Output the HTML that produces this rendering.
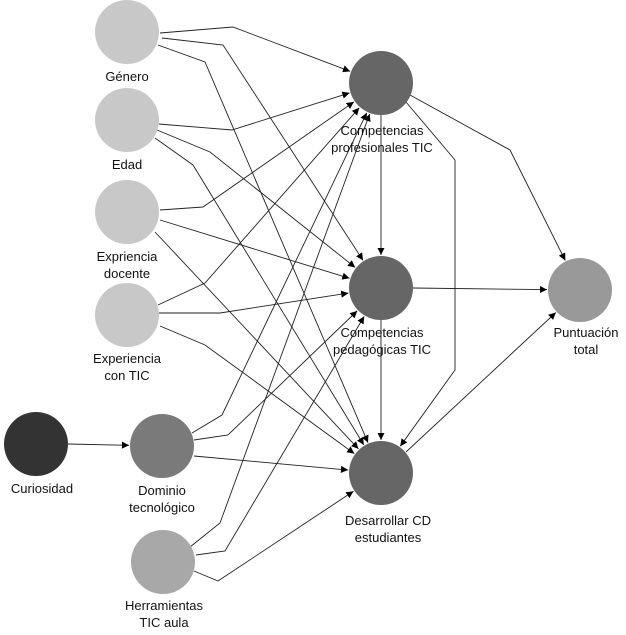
<!DOCTYPE html>
<html><head><meta charset="utf-8"><style>
html,body{margin:0;padding:0;background:#fff;}
svg{display:block}
text{font-family:"Liberation Sans","DejaVu Sans",sans-serif;font-size:13px;fill:#111;text-anchor:middle}
</style></head><body>
<svg id="s" width="626" height="635" viewBox="0 0 626 635" xmlns="http://www.w3.org/2000/svg">
<defs><marker id="a" viewBox="0 0 10 10" refX="10" refY="5" markerWidth="8" markerHeight="8" orient="auto"><path d="M0,0 L10,5 L0,10 z" fill="#000"/></marker></defs>
<g id="edges" stroke="#222" stroke-width="0.9" fill="none"></g>
<g id="nodes">
<circle cx="127" cy="32" r="32" fill="#c8c8c8"/>
<circle cx="127" cy="120" r="32" fill="#c8c8c8"/>
<circle cx="127" cy="212" r="32" fill="#c8c8c8"/>
<circle cx="127" cy="315" r="32" fill="#c8c8c8"/>
<circle cx="36" cy="444" r="32" fill="#333"/>
<circle cx="162" cy="446" r="32" fill="#7a7a7a"/>
<circle cx="163" cy="562" r="32" fill="#a8a8a8"/>
<circle cx="381" cy="83" r="32" fill="#666"/>
<circle cx="381" cy="288" r="32" fill="#666"/>
<circle cx="381" cy="473" r="32" fill="#666"/>
<circle cx="580" cy="290" r="32" fill="#999"/>
</g>
<text x="127" y="81">Género</text>
<text x="127" y="169">Edad</text>
<text x="127" y="261">Expriencia</text><text x="127" y="278">docente</text>
<text x="127" y="363">Experiencia</text><text x="127" y="380">con TIC</text>
<text x="42" y="493">Curiosidad</text>
<text x="162" y="495">Dominio</text><text x="162" y="512">tecnológico</text>
<text x="164" y="610">Herramientas</text><text x="164" y="627">TIC aula</text>
<text x="382" y="135">Competencias</text><text x="382" y="152">profesionales TIC</text>
<text x="382" y="337">Competencias</text><text x="382" y="354">pedagógicas TIC</text>
<text x="388" y="525">Desarrollar CD</text><text x="388" y="542">estudiantes</text>
<text x="586" y="337">Puntuación</text><text x="586" y="354">total</text>
</svg>
<script>
var T={P:[381,83],G:[381,288],D:[381,473],S:[580,290],Do:[162,446]};
var E=[
[[160,33],[233,27]],'P',[[162,38],[223,45]],'G',[[158,45],[205,62]],'D',
[[159,124],[232,130]],'P',[[157,130],[210,152]],'G',[[155,138],[193,165]],'D',
[[160,210],[203,207]],'P',[[160,220]],'G',[[155,232]],'D',
[[158,305],[205,283]],'P',[[159,313],[220,313]],'G',[[160,326],[205,345]],'D',
[[192,433],[222,415]],'P',[[194,440],[228,435]],'G',[[194,456]],'D',
[[190,547],[220,523]],'P',[[196,555],[225,551]],'G',[[194,571],[218,581]],'D',
[[68,444]],'Do',[[381,115]],'G',[[406,102],[455,160],[455,370]],'D',
[[410,95],[510,150]],'S',[[413,288]],'S',[[381,320]],'D',[[406,452]],'S'
];
var g=document.getElementById('edges'),r=33;
for(var i=0;i<E.length;i+=2){var p=E[i].slice(),c=T[E[i+1]],l=p[p.length-1];
var dx=c[0]-l[0],dy=c[1]-l[1],d=Math.sqrt(dx*dx+dy*dy);
p.push([c[0]-dx/d*r,c[1]-dy/d*r]);
var e=document.createElementNS('http://www.w3.org/2000/svg','polyline');
e.setAttribute('points',p.map(function(q){return q.join(',')}).join(' '));
e.setAttribute('marker-end','url(#a)');g.appendChild(e);}
</script>
</body></html>
